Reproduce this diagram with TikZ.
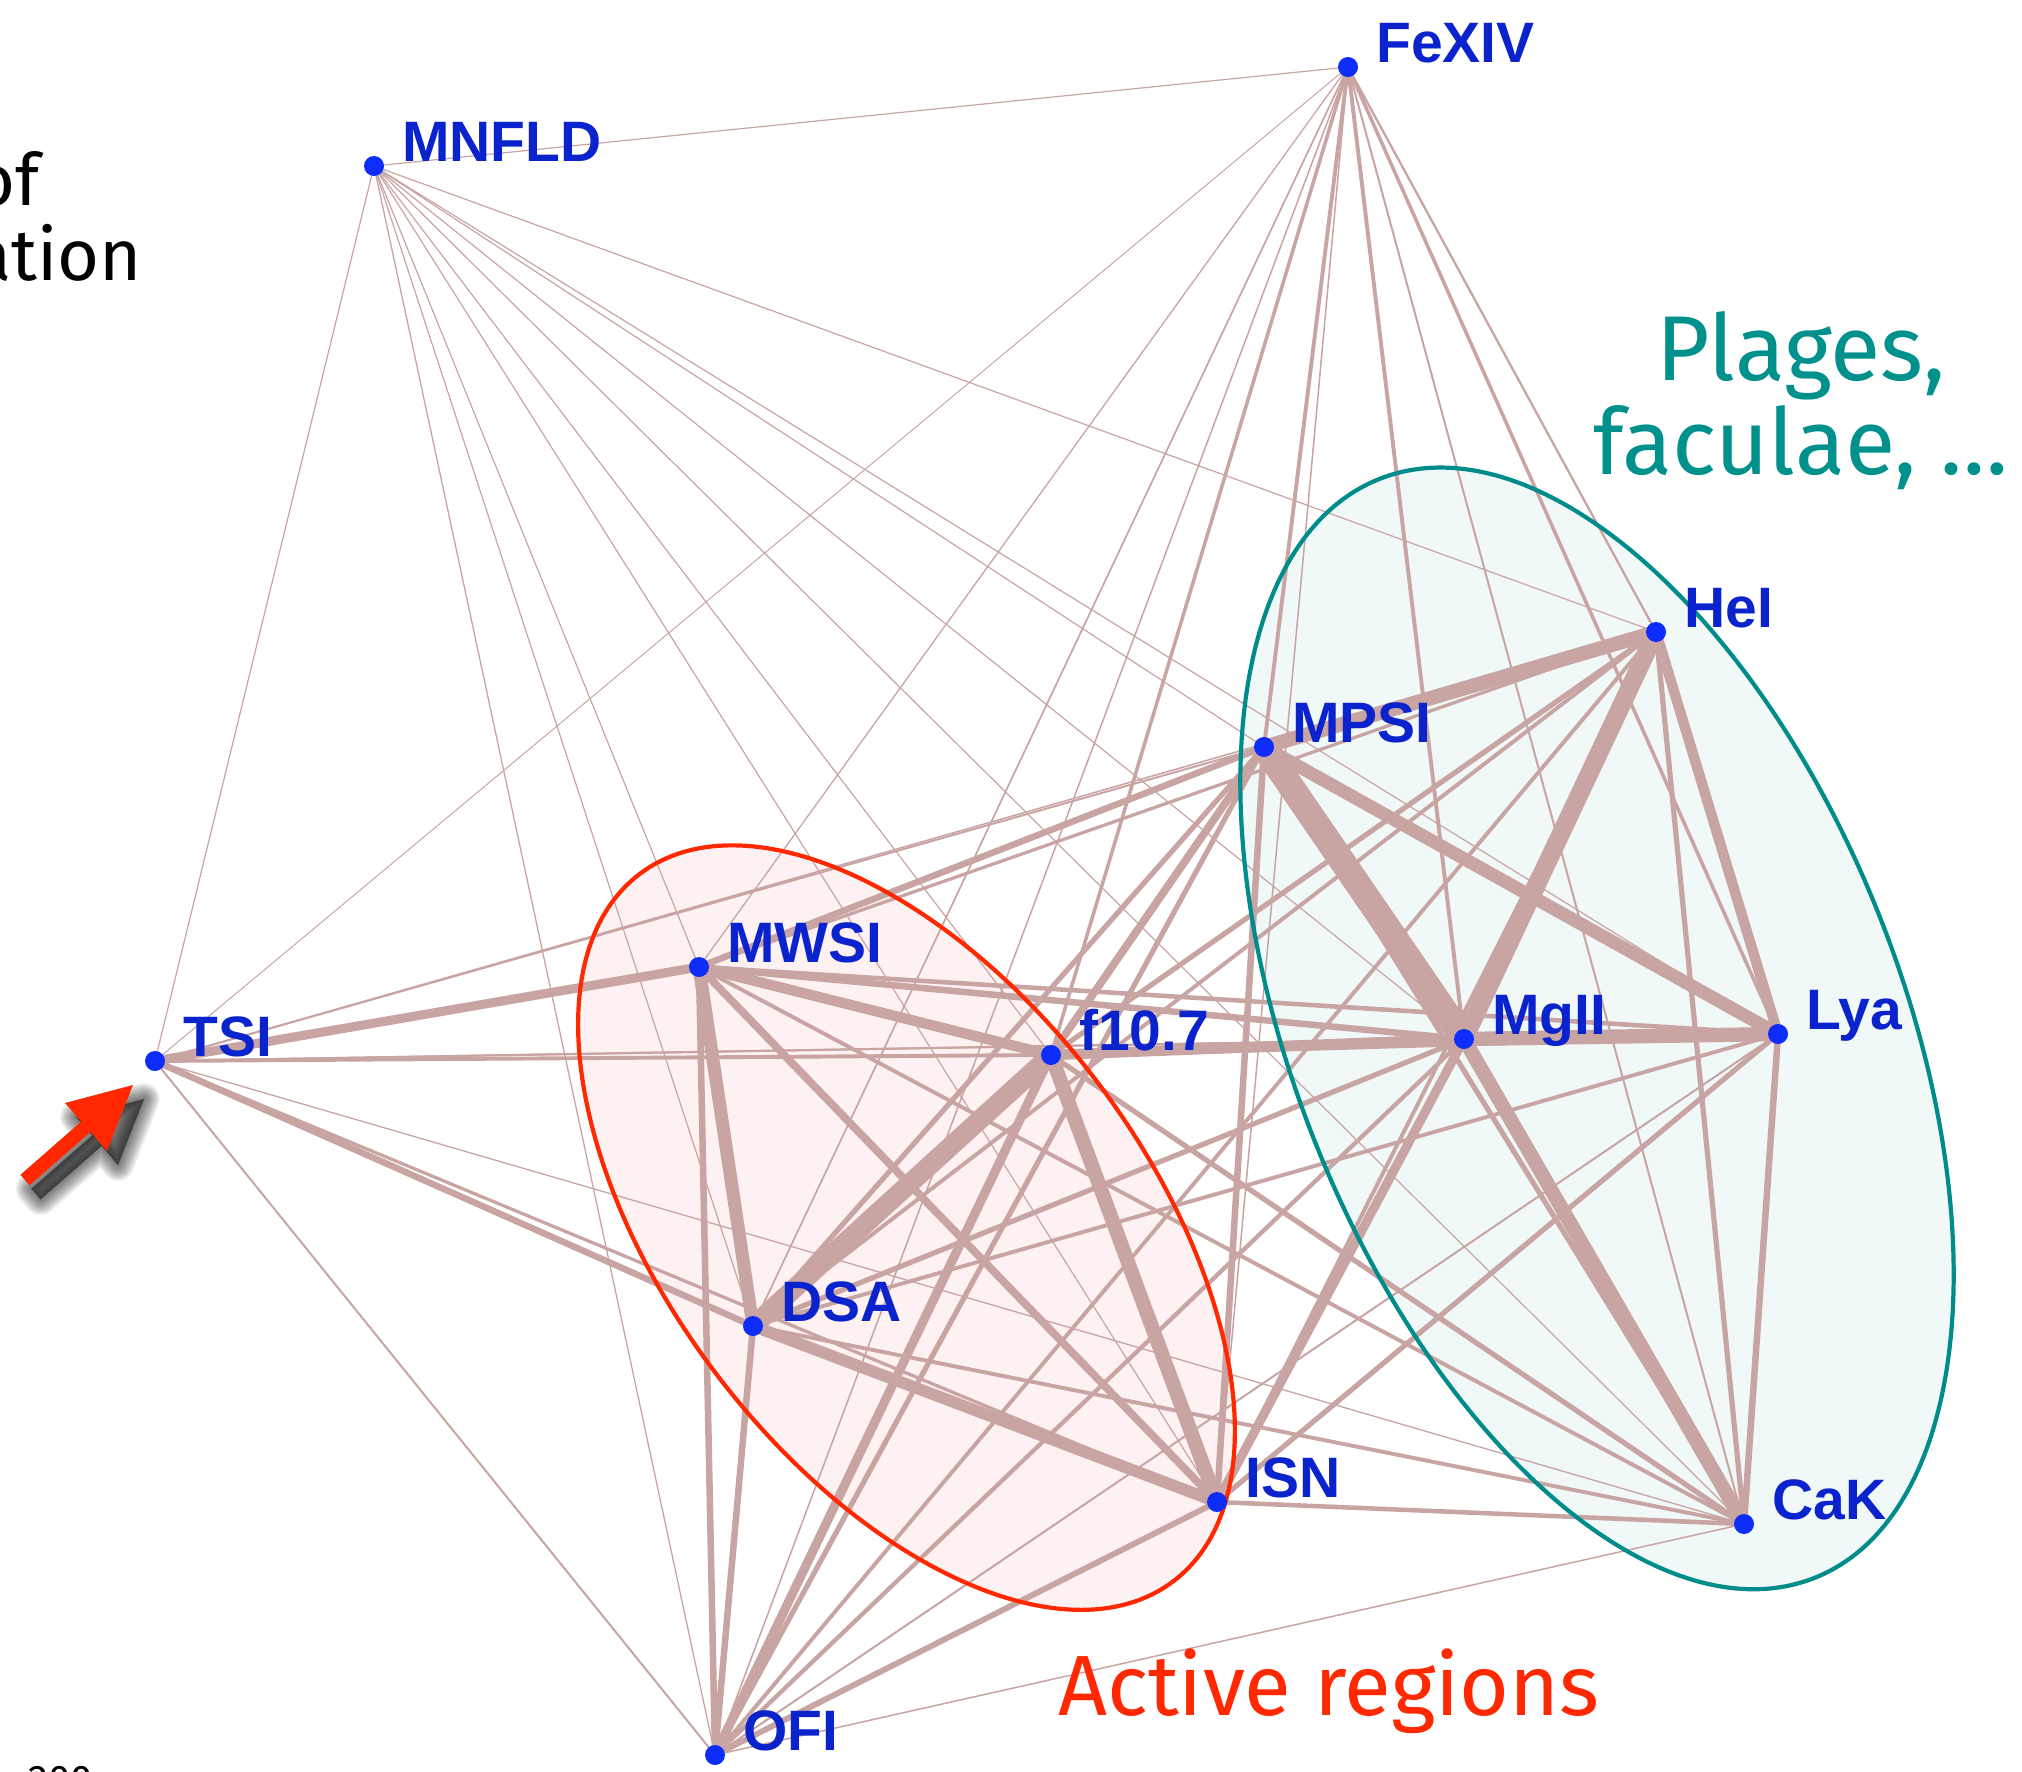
\documentclass[tikz,border=0pt]{standalone}
\usepackage{fontspec}
\setmainfont{Fira Sans}
\newfontfamily\labfont{Liberation Sans}
\usetikzlibrary{calc}

\definecolor{edgec}{RGB}{200,164,162}
\definecolor{dotc}{RGB}{15,45,250}
\definecolor{labc}{RGB}{10,35,205}
\definecolor{redc}{RGB}{255,40,0}
\definecolor{tealc}{RGB}{0,140,138}
\definecolor{tealtxt}{RGB}{0,145,140}
\definecolor{pinkfill}{RGB}{254,241,241}
\definecolor{tealfill}{RGB}{241,248,248}

\pgfdeclarelayer{fills}
\pgfdeclarelayer{links}
\pgfdeclarelayer{rims}
\pgfsetlayers{fills,links,rims,main}

\tikzset{
  vtx/.style={circle, fill=dotc, inner sep=0pt, minimum size=20pt},
  vlab/.style={anchor=base west, inner sep=0pt, text=labc,
    font=\labfont\bfseries\fontsize{57}{60}\selectfont},
  % link width: thin links stay fine, heavier ones are scaled up
  link/.style={draw=edgec, line width={(#1<2.5 ? #1 : 1.3*#1)*1pt}},
  note/.style={inner sep=0pt},
}

\begin{document}
\begin{tikzpicture}[x=1pt, y=-1pt]
\useasboundingbox (0,0) rectangle (2022,1772);

% vertices (positions in pixels, y downwards)
\node[vtx] (Fe)   at (1348,  67) {};
\node[vtx] (MN)   at ( 374, 166) {};
\node[vtx] (HeI)  at (1656, 632) {};
\node[vtx] (MPSI) at (1264, 747) {};
\node[vtx] (MWSI) at ( 699, 967) {};
\node[vtx] (TSI)  at ( 155,1061) {};
\node[vtx] (F)    at (1051,1055) {};
\node[vtx] (MgII) at (1464,1039) {};
\node[vtx] (Lya)  at (1778,1034) {};
\node[vtx] (DSA)  at ( 753,1326) {};
\node[vtx] (ISN)  at (1217,1502) {};
\node[vtx] (CaK)  at (1744,1524) {};
\node[vtx] (OFI)  at ( 715,1755) {};

% vertex labels
\foreach \n/\t in {Fe/FeXIV, MN/MNFLD, HeI/HeI, MPSI/MPSI, MWSI/MWSI, TSI/TSI,
  F/f10.7, MgII/MgII, Lya/Lya, DSA/DSA, ISN/ISN, CaK/CaK, OFI/OFI}
  \node[vlab] (\n-lab) at ($(\n)+(28,-5)$) {\t};

% group regions
\begin{pgfonlayer}{fills}
  \fill[pinkfill, rotate around={-53:(906.5,1227.6)}]
    (906.5,1227.6) ellipse [x radius=443pt, y radius=240pt];
  \fill[tealfill, rotate around={-68.4:(1597,1028.4)}]
    (1597,1028.4) ellipse [x radius=591pt, y radius=304pt];
\end{pgfonlayer}
\begin{pgfonlayer}{rims}
  \draw[redc, line width=4.2pt, rotate around={-53:(906.5,1227.6)}]
    (906.5,1227.6) ellipse [x radius=443pt, y radius=240pt];
  \draw[tealc, line width=4.2pt, rotate around={-68.4:(1597,1028.4)}]
    (1597,1028.4) ellipse [x radius=591pt, y radius=304pt];
\end{pgfonlayer}

% weighted links
\begin{pgfonlayer}{links}
\foreach \a/\b/\w in {
  MN/Fe/1.2, MN/TSI/1.2, MN/HeI/1.2, MN/MPSI/1.2, MN/MWSI/1.2, MN/F/1.2,
  MN/MgII/1.2, MN/Lya/1.2, MN/DSA/1.2, MN/ISN/1.2, MN/CaK/1.2, MN/OFI/1.3,
  Fe/TSI/1.0, Fe/MWSI/1.3, Fe/DSA/1.7, Fe/OFI/1.5, Fe/F/2.7, Fe/ISN/1.5,
  Fe/MPSI/3, Fe/MgII/3, Fe/CaK/2, Fe/Lya/2.7, Fe/HeI/2.3,
  TSI/MPSI/2, TSI/HeI/1.5, TSI/MWSI/7, TSI/F/3, TSI/MgII/2, TSI/Lya/2,
  TSI/DSA/5, TSI/ISN/2.5, TSI/CaK/1.3, TSI/OFI/2,
  MWSI/F/8, MWSI/MgII/5, MWSI/Lya/3.5, MWSI/MPSI/5, MWSI/HeI/2.5,
  MWSI/DSA/10, MWSI/ISN/6, MWSI/CaK/3, MWSI/OFI/5,
  F/MgII/8, F/Lya/5, F/MPSI/6, F/HeI/4, F/DSA/15, F/ISN/11, F/CaK/4, F/OFI/7,
  MPSI/MgII/20, MPSI/HeI/11, MPSI/Lya/10, MPSI/CaK/4, MPSI/ISN/5,
  MPSI/DSA/4, MPSI/OFI/4,
  MgII/HeI/14, MgII/Lya/11, MgII/CaK/11, MgII/ISN/7, MgII/DSA/4, MgII/OFI/3.3,
  Lya/HeI/8, Lya/CaK/5, Lya/ISN/4, Lya/DSA/3, Lya/OFI/2,
  HeI/CaK/4, HeI/DSA/3, HeI/ISN/3, HeI/OFI/3,
  DSA/ISN/9, DSA/CaK/3, DSA/OFI/5,
  ISN/CaK/3.5, ISN/OFI/4.5,
  CaK/OFI/1.5}
  \draw[link=\w] (\a.center) -- (\b.center);
\end{pgfonlayer}

% group captions
\node[note, anchor=base west, text=redc, font=\fontsize{85.5}{96}\selectfont]
  (active) at (1058,1715) {Active regions};
\node[note, anchor=base, text=tealtxt, font=\fontsize{92}{100}\selectfont]
  (plages) at (1801,380) {Plages,};
\node[note, anchor=base, text=tealtxt, font=\fontsize{92}{100}\selectfont]
  (faculae) at (1801,474) {faculae, …};

% running text at the left edge
\node[note, anchor=base east, font=\fontsize{72}{80}\selectfont] (of) at (40,205) {of};
\node[note, anchor=base east, font=\fontsize{72}{80}\selectfont] (ation) at (142,280) {ation};
\node[note, anchor=base west, font=\fontsize{40}{48}\selectfont] (num) at (28,1793) {200};

% pointer arrow with soft shadow
\def\pointer{(20.4,1174.8) -- (81.4,1121.4) -- (65,1103) -- (133,1085)
  -- (107,1151) -- (90.6,1131.9) -- (29.6,1185.3) -- cycle}
\foreach \k in {1,...,16}
  \filldraw[black, opacity=0.045, line width=\k*2pt, line join=round,
    shift={(11,14)}] \pointer;
\fill[redc] \pointer;
\end{tikzpicture}
\end{document}
